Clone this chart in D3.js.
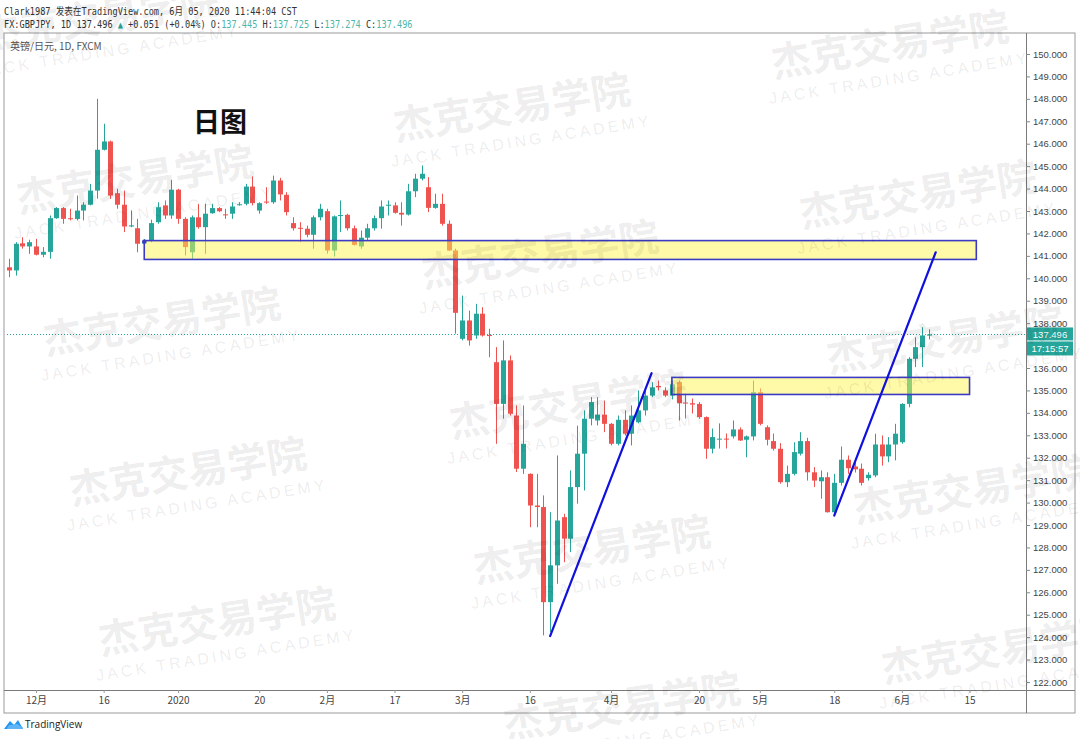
<!DOCTYPE html>
<html><head><meta charset="utf-8">
<script src="https://cdn.jsdelivr.net/npm/d3@7/dist/d3.min.js"></script>
<style>body{margin:0;background:#fff}svg{display:block}</style>
</head><body><svg id="chart" width="1080" height="739"></svg>
<script>
// ---------- DATA ----------
const dates = [
"2019-11-26","2019-11-27","2019-11-28","2019-11-29",
"2019-12-02","2019-12-03","2019-12-04","2019-12-05","2019-12-06","2019-12-09","2019-12-10","2019-12-11","2019-12-12","2019-12-13",
"2019-12-16","2019-12-17","2019-12-18","2019-12-19","2019-12-20","2019-12-23","2019-12-24","2019-12-26","2019-12-27","2019-12-30","2019-12-31",
"2020-01-02","2020-01-03","2020-01-06","2020-01-07","2020-01-08","2020-01-09","2020-01-10","2020-01-13","2020-01-14","2020-01-15","2020-01-16","2020-01-17",
"2020-01-20","2020-01-21","2020-01-22","2020-01-23","2020-01-24","2020-01-27","2020-01-28","2020-01-29","2020-01-30","2020-01-31",
"2020-02-03","2020-02-04","2020-02-05","2020-02-06","2020-02-07","2020-02-10","2020-02-11","2020-02-12","2020-02-13","2020-02-14",
"2020-02-17","2020-02-18","2020-02-19","2020-02-20","2020-02-21","2020-02-24","2020-02-25","2020-02-26","2020-02-27","2020-02-28",
"2020-03-02","2020-03-03","2020-03-04","2020-03-05","2020-03-06","2020-03-09","2020-03-10","2020-03-11","2020-03-12","2020-03-13",
"2020-03-16","2020-03-17","2020-03-18","2020-03-19","2020-03-20","2020-03-23","2020-03-24","2020-03-25","2020-03-26","2020-03-27","2020-03-30","2020-03-31",
"2020-04-01","2020-04-02","2020-04-03","2020-04-06","2020-04-07","2020-04-08","2020-04-09","2020-04-10","2020-04-13","2020-04-14","2020-04-15","2020-04-16","2020-04-17",
"2020-04-20","2020-04-21","2020-04-22","2020-04-23","2020-04-24","2020-04-27","2020-04-28","2020-04-29","2020-04-30",
"2020-05-01","2020-05-04","2020-05-05","2020-05-06","2020-05-07","2020-05-08","2020-05-11","2020-05-12","2020-05-13","2020-05-14","2020-05-15",
"2020-05-18","2020-05-19","2020-05-20","2020-05-21","2020-05-22","2020-05-25","2020-05-26","2020-05-27","2020-05-28","2020-05-29",
"2020-06-01","2020-06-02","2020-06-03","2020-06-04","2020-06-05"];
const futureDates = ["2020-06-08","2020-06-09","2020-06-10","2020-06-11","2020-06-12","2020-06-15","2020-06-16","2020-06-17","2020-06-18","2020-06-19"];

const open = [140.49,140.35,141.56,141.42,
141.42,141.05,141.18,142.68,143.13,142.68,142.65,143.02,143.28,143.91,
145.73,146.10,143.79,143.28,142.31,142.23,141.55,141.69,142.50,143.25,142.80,
143.95,142.65,141.16,142.72,142.28,142.90,143.13,142.85,142.88,143.27,143.32,144.09,
143.02,143.42,143.39,144.36,143.72,142.46,142.25,142.21,141.94,142.72,
142.99,141.24,142.78,142.83,142.23,141.42,141.81,142.23,142.68,143.25,
143.25,142.92,142.84,143.88,144.44,144.06,143.14,143.32,142.43,141.24,
137.30,138.12,137.45,138.42,137.47,136.26,134.40,136.34,133.88,131.51,
131.28,129.87,129.80,125.56,127.20,129.35,128.39,130.69,132.18,133.74,133.66,133.92,
133.51,132.62,133.69,133.07,133.58,134.11,134.77,135.20,135.00,134.77,135.37,
134.46,134.43,134.40,133.81,132.40,132.82,132.85,132.95,133.26,
132.80,132.95,134.92,133.36,132.74,132.40,130.91,131.28,132.18,132.74,131.35,
130.95,131.13,129.57,130.88,131.91,131.61,131.51,131.09,131.21,132.59,
132.06,132.59,132.69,134.40,136.41,136.93,137.445];
const high = [140.87,141.61,141.83,141.72,
141.76,141.39,142.80,143.17,143.17,143.10,143.69,143.39,144.21,148.00,
146.89,146.14,143.99,143.91,143.02,142.65,141.75,142.61,143.39,143.47,144.39,
143.99,142.72,142.80,143.32,143.32,143.32,143.17,143.10,143.39,143.39,144.21,144.54,
143.39,144.06,144.58,144.48,143.84,142.72,142.50,142.35,142.80,143.32,
143.10,142.80,143.47,142.88,142.35,142.13,142.43,142.80,143.47,143.47,
143.39,143.39,144.21,144.66,145.03,144.51,143.77,143.77,142.58,141.32,
139.23,138.56,138.86,138.71,137.75,136.93,137.23,136.56,134.33,134.33,
131.30,131.28,130.32,129.57,132.10,129.50,131.43,133.43,134.11,134.70,134.70,134.55,
133.55,133.88,134.11,134.33,135.00,135.00,135.37,135.44,135.14,135.44,135.44,
134.86,134.64,134.48,133.84,133.30,133.53,133.08,133.66,133.35,
132.99,135.44,135.09,133.44,133.08,132.65,131.65,132.69,133.14,132.89,131.58,
131.43,131.35,131.28,132.50,132.10,131.88,131.74,131.35,133.07,132.99,
132.92,133.51,134.43,136.48,137.37,137.82,137.725];
const low = [140.05,140.12,141.32,141.09,
141.02,140.94,140.87,142.65,142.43,142.58,142.58,142.58,143.25,143.55,
145.70,143.54,143.10,142.06,142.28,141.16,141.45,141.61,142.43,142.65,142.65,
142.43,141.02,140.87,142.21,141.09,142.88,142.95,142.65,142.65,143.24,143.25,143.25,
142.88,143.32,143.32,143.47,142.80,142.13,141.61,141.83,141.32,142.58,
141.10,140.97,142.06,142.13,141.46,141.32,141.69,142.13,142.21,142.80,
142.88,142.35,142.80,143.62,144.36,142.95,143.10,142.35,141.22,137.53,
137.23,137.00,137.30,137.40,136.48,132.62,133.74,133.88,131.36,131.28,
128.90,128.90,124.08,124.22,126.38,127.34,127.79,129.95,130.54,133.44,133.44,133.14,
132.55,132.55,132.99,132.55,133.53,133.88,134.70,135.00,134.70,134.60,133.66,
133.75,133.97,133.74,131.95,132.19,132.41,132.41,132.86,132.75,
132.02,132.77,133.44,132.55,132.32,130.84,130.69,131.21,132.10,130.98,130.69,
130.17,129.55,129.42,130.76,131.28,131.34,130.76,130.98,131.13,131.65,
131.80,131.88,132.62,134.25,136.04,136.04,137.274];
const close = [140.35,141.54,141.42,141.61,
141.05,141.18,142.68,143.13,142.65,142.65,143.02,143.28,143.91,145.73,
146.10,143.69,143.28,142.31,142.36,141.54,141.62,142.46,143.17,142.80,143.95,
142.65,141.39,142.72,142.28,142.88,143.13,142.99,142.82,143.20,143.30,144.09,143.35,
143.35,143.40,144.36,143.74,142.95,142.23,142.22,141.94,142.72,143.10,
141.24,142.76,142.82,142.23,141.49,141.81,142.23,142.68,143.20,143.28,
142.92,142.84,143.88,144.44,144.66,143.14,143.32,142.43,141.24,138.46,
138.12,137.23,138.42,137.45,137.43,134.40,136.34,133.96,131.51,132.62,
129.87,129.80,125.56,127.20,129.20,128.39,130.69,132.18,133.74,134.48,133.92,133.51,
132.62,133.69,133.07,133.88,134.11,134.77,135.14,135.14,134.77,135.27,134.43,
134.43,134.37,133.81,132.40,132.92,132.85,132.82,133.26,132.77,
132.95,134.92,133.51,132.80,132.40,130.91,131.28,132.25,132.74,131.35,130.98,
131.13,129.57,130.88,131.91,131.53,131.48,130.88,131.24,132.59,132.06,
132.59,133.07,134.40,136.41,136.93,137.45,137.496];

// 137.000 is hidden behind the last-price label in the reference
const priceTicks = [122,123,124,125,126,127,128,129,130,131,132,133,134,135,136,138,139,140,141,142,143,144,145,146,147,148,149,150];
const tickDates = ["2019-12-02","2019-12-16","2020-01-02","2020-01-20","2020-02-03","2020-02-17","2020-03-02","2020-03-16","2020-04-01","2020-04-20","2020-05-01","2020-05-18","2020-06-01","2020-06-15"];
const tickLabels = ["12月","16","2020","20","2月","17","3月","16","4月","20","5月","18","6月","15"];

// drawn zones (support / resistance boxes)
const zoneStart = ["2019-12-24","2020-04-14"];
const zoneEnd = ["2020-06-16","2020-06-15"];
const zoneTop = [141.68, 135.58];
const zoneBottom = [140.84, 134.82];
// trend lines
const trendStartDate = ["2020-03-19","2020-05-18"];
const trendStartPrice = [124.05, 129.42];
const trendEndDate = ["2020-04-09","2020-06-08"];
const trendEndPrice = [135.77, 141.16];

const lastPrice = 137.496;
const countdown = "17:15:57";
const headerLine1 = "Clark1987 发表在TradingView.com, 6月 05, 2020 11:44:04 CST";
const symbolTitle = "英镑/日元, 1D, FXCM";

// ---------- LAYOUT ----------
const W = 1080, H = 739;
const frame = {l:4, t:33, r:1075, b:713};
const plotR = 1026, plotB = 690;
const up = "#26a69a", down = "#ef5350";

const svg = d3.select("#chart");
const allDates = dates.concat(futureDates);
const x = d3.scalePoint().domain(allDates).range([8.94, 996.6]);
const y = d3.scaleLinear().domain([122, 150]).range([682, 54]);

svg.append("rect").attr("width", W).attr("height", H).attr("fill", "#fff");

// header (monospace, slightly condensed)
const hdr = svg.append("g").attr("transform","translate(4,0) scale(0.86,1)")
  .attr("font-family","'DejaVu Sans Mono','Noto Sans CJK SC',monospace").attr("font-size",10).attr("fill","#333");
hdr.append("text").attr("x",0).attr("y",15).text(headerLine1);
const l2 = hdr.append("text").attr("x",0).attr("y",28);
const parts = [["FX:GBPJPY, 1D 137.496 ","#333"],["▲","#26a69a"],[" +0.051 (+0.04%) ","#333"],["O:","#333"],["137.445","#4db6ac"],[" H:","#333"],["137.725","#4db6ac"],[" L:","#333"],["137.274","#4db6ac"],[" C:","#333"],["137.496","#4db6ac"]];
parts.forEach(p => l2.append("tspan").attr("fill",p[1]).text(p[0]));

// frame
svg.append("rect").attr("x",frame.l).attr("y",frame.t).attr("width",frame.r-frame.l).attr("height",frame.b-frame.t)
  .attr("fill","none").attr("stroke","#9a9a9a").attr("stroke-width",1);
svg.append("line").attr("x1",plotR+0.5).attr("x2",plotR+0.5).attr("y1",frame.t).attr("y2",frame.b).attr("stroke","#7a7a7a");
svg.append("line").attr("x1",frame.l).attr("x2",frame.r).attr("y1",plotB+0.5).attr("y2",plotB+0.5).attr("stroke","#7a7a7a");

svg.append("text").attr("x",10).attr("y",50).attr("font-family","'Noto Sans CJK SC',sans-serif").attr("font-size",10)
  .attr("fill","#555").text(symbolTitle);

// clip
svg.append("clipPath").attr("id","clip").append("rect").attr("x",frame.l+1).attr("y",frame.t+1).attr("width",plotR-frame.l-1).attr("height",plotB-frame.t-1);
const plot = svg.append("g").attr("clip-path","url(#clip)");

// current price dotted line
plot.append("line").attr("x1",frame.l).attr("x2",plotR).attr("y1",Math.round(y(lastPrice))+0.5).attr("y2",Math.round(y(lastPrice))+0.5)
  .attr("stroke","#26a69a").attr("stroke-width",1).attr("stroke-dasharray","1,2");

// candles
const idx = d3.range(dates.length);
const bw = 5;
const cg = plot.append("g");
cg.selectAll("line.wick").data(idx).join("line")
  .attr("x1", i => Math.round(x(dates[i]))+0.5).attr("x2", i => Math.round(x(dates[i]))+0.5)
  .attr("y1", i => y(high[i])).attr("y2", i => y(low[i]))
  .attr("stroke", i => close[i] >= open[i] ? up : down).attr("stroke-width",1);
cg.selectAll("rect.body").data(idx).join("rect")
  .attr("x", i => Math.round(x(dates[i])) - 2)
  .attr("y", i => y(Math.max(open[i], close[i])))
  .attr("width", bw)
  .attr("height", i => Math.max(1, Math.abs(y(open[i]) - y(close[i]))))
  .attr("fill", i => close[i] >= open[i] ? up : down);

// zones
zoneStart.forEach((d,k) => {
  plot.append("rect").attr("x", x(d)).attr("y", y(zoneTop[k]))
    .attr("width", x(zoneEnd[k]) - x(d)).attr("height", y(zoneBottom[k]) - y(zoneTop[k]))
    .attr("fill","rgba(255,245,80,0.5)").attr("stroke","#3b3bc4").attr("stroke-width",1.6);
});
plot.append("circle").attr("cx", x(zoneStart[0])).attr("cy", y(zoneTop[0])+1).attr("r",2.2).attr("fill","#3b3bc4");

// trend lines
trendStartDate.forEach((d,k) => {
  plot.append("line").attr("x1", x(d)).attr("y1", y(trendStartPrice[k]))
    .attr("x2", x(trendEndDate[k])).attr("y2", y(trendEndPrice[k]))
    .attr("stroke","#1010e0").attr("stroke-width",2.2).attr("stroke-linecap","round");
});

// big label
svg.append("text").attr("x",220).attr("y",132).attr("text-anchor","middle")
  .attr("font-family","'Noto Sans CJK SC',sans-serif").attr("font-weight",700).attr("font-size",27).attr("fill","#111").text("日图");

// y axis
const ya = svg.append("g").attr("transform",`translate(${plotR},0)`)
  .call(d3.axisRight(y).tickValues(priceTicks).tickFormat(d3.format(".3f")).tickSize(4).tickPadding(3));
ya.select(".domain").remove();
ya.selectAll("line").attr("stroke","#888");
ya.selectAll("text").attr("font-family","'Liberation Sans',Arial,sans-serif").attr("font-size",9.5).attr("fill","#444");

// x axis
const xa = svg.append("g").attr("transform",`translate(0,${plotB})`)
  .call(d3.axisBottom(x).tickValues(tickDates).tickFormat((d,i) => tickLabels[i]).tickSize(3).tickPadding(4));
xa.select(".domain").remove();
xa.selectAll("line").attr("stroke","#999");
xa.selectAll("text").attr("font-family","'Noto Sans CJK SC','Liberation Sans',sans-serif").attr("font-size",10).attr("fill","#444");

// price labels
const py = y(lastPrice);
svg.append("rect").attr("x",plotR+1).attr("y",py-7).attr("width",46).attr("height",13).attr("fill","#26a69a");
svg.append("text").attr("x",plotR+24).attr("y",py+3.5).attr("text-anchor","middle").attr("font-family","'Liberation Sans',sans-serif").attr("font-size",9.5).attr("fill","#fff").text(d3.format(".3f")(lastPrice));
svg.append("rect").attr("x",plotR+1).attr("y",py+7).attr("width",46).attr("height",14).attr("fill","#26a69a");
svg.append("text").attr("x",plotR+24).attr("y",py+17.5).attr("text-anchor","middle").attr("font-family","'Liberation Sans',sans-serif").attr("font-size",9.5).attr("fill","#fff").text(countdown);

// TradingView logo
const logo = svg.append("g").attr("transform","translate(4,717)");
logo.append("path").attr("d","M0,12 L6,4 L10,8 L14,3 L19,12 Z").attr("fill","#2196f3");
logo.append("path").attr("d","M3,12 Q4,7 9,8 Q12,5 16,9 Q19,9 19,12 Z").attr("fill","#5fb4f6");
svg.append("text").attr("x",25).attr("y",728).attr("font-family","'Open Sans',sans-serif").attr("font-size",10).attr("fill","#222").text("TradingView");

// watermarks
const wmX = [100,890,512,135,918,540,162,945,568,188,972,592,217,1000,622];
const wmY = [18,45,108,180,195,255,322,340,405,472,490,550,622,650,707];
const wm = svg.append("g").attr("pointer-events","none");
wmX.forEach((cx,k) => {
  const g = wm.append("g").attr("transform",`translate(${cx},${wmY[k]}) rotate(-9)`);
  g.append("text").attr("text-anchor","middle").attr("dy","0.35em").attr("font-family","'Noto Sans CJK SC',sans-serif")
    .attr("font-weight",700).attr("font-size",40).attr("fill","#000").attr("fill-opacity",0.085).text("杰克交易学院");
  g.append("text").attr("x",4).attr("y",34).attr("text-anchor","middle").attr("dy","0.35em").attr("font-family","'Liberation Sans',sans-serif")
    .attr("font-size",16).attr("letter-spacing",3.2).attr("fill","#000").attr("fill-opacity",0.085).text("JACK TRADING ACADEMY");
});
</script></body></html>
